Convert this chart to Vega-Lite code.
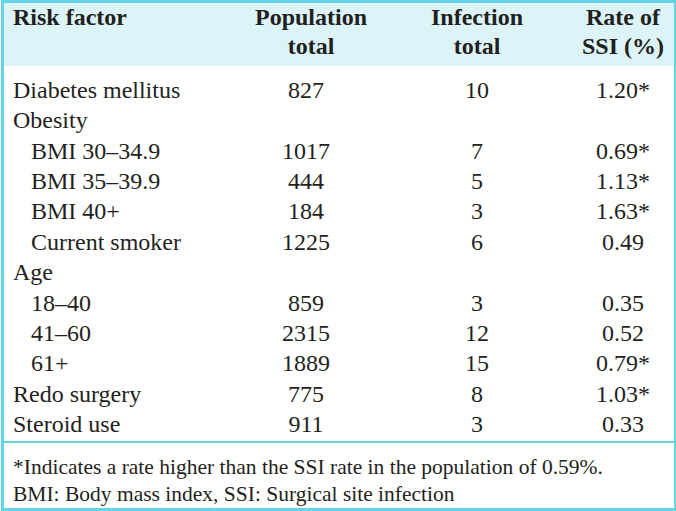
{
  "$schema": "https://vega.github.io/schema/vega-lite/v6.json",
  "width": 676,
  "height": 511,
  "autosize": {"type": "fit", "contains": "padding"},
  "padding": 0,
  "background": "white",
  "config": {
    "view": {"stroke": null},
    "text": {"font": "Liberation Serif", "color": "#231f20", "fontSize": 24, "baseline": "middle"}
  },
  "data": {
    "values": [
      {"factor": "Diabetes mellitus", "level": 0, "population": "827", "infection": "10", "rate": "1.20*"},
      {"factor": "Obesity", "level": 0, "population": "", "infection": "", "rate": ""},
      {"factor": "BMI 30–34.9", "level": 1, "population": "1017", "infection": "7", "rate": "0.69*"},
      {"factor": "BMI 35–39.9", "level": 1, "population": "444", "infection": "5", "rate": "1.13*"},
      {"factor": "BMI 40+", "level": 1, "population": "184", "infection": "3", "rate": "1.63*"},
      {"factor": "Current smoker", "level": 1, "population": "1225", "infection": "6", "rate": "0.49"},
      {"factor": "Age", "level": 0, "population": "", "infection": "", "rate": ""},
      {"factor": "18–40", "level": 1, "population": "859", "infection": "3", "rate": "0.35"},
      {"factor": "41–60", "level": 1, "population": "2315", "infection": "12", "rate": "0.52"},
      {"factor": "61+", "level": 1, "population": "1889", "infection": "15", "rate": "0.79*"},
      {"factor": "Redo surgery", "level": 0, "population": "775", "infection": "8", "rate": "1.03*"},
      {"factor": "Steroid use", "level": 0, "population": "911", "infection": "3", "rate": "0.33"}
    ]
  },
  "layer": [
    {
      "data": {"values": [{}]},
      "mark": {"type": "rect", "fill": "#dcf4f8"},
      "encoding": {"x": {"value": 0}, "x2": {"value": 676}, "y": {"value": 0}, "y2": {"value": 66}}
    },
    {
      "data": {"values": [{}]},
      "mark": {"type": "rule", "stroke": "#66d4e4", "strokeWidth": 2},
      "encoding": {"x": {"value": 0}, "x2": {"value": 676}, "y": {"value": 442}}
    },
    {
      "data": {"values": [{}]},
      "mark": {"type": "rect", "fill": null, "stroke": "#66d4e4", "strokeWidth": 3},
      "encoding": {"x": {"value": 1.5}, "x2": {"value": 674.5}, "y": {"value": 1.5}, "y2": {"value": 509.5}}
    },
    {
      "data": {"values": [{"label": "Risk factor"}]},
      "mark": {"type": "text", "fontWeight": "bold", "align": "left", "x": 12, "y": 18},
      "encoding": {"text": {"field": "label"}}
    },
    {
      "data": {"values": [{"label": ["Population", "total"]}]},
      "mark": {"type": "text", "fontWeight": "bold", "align": "center", "lineHeight": 29, "x": 310, "y": 18},
      "encoding": {"text": {"field": "label"}}
    },
    {
      "data": {"values": [{"label": ["Infection", "total"]}]},
      "mark": {"type": "text", "fontWeight": "bold", "align": "center", "lineHeight": 29, "x": 476, "y": 18},
      "encoding": {"text": {"field": "label"}}
    },
    {
      "data": {"values": [{"label": ["Rate of", "SSI (%)"]}]},
      "mark": {"type": "text", "fontWeight": "bold", "align": "center", "lineHeight": 29, "x": 622, "y": 18},
      "encoding": {"text": {"field": "label"}}
    },
    {
      "transform": [{"filter": "datum.level == 0"}],
      "mark": {"type": "text", "align": "left", "x": 12},
      "encoding": {
        "text": {"field": "factor"},
        "y": {"field": "factor", "type": "ordinal", "sort": null, "axis": null,
              "scale": {"type": "point", "range": [91, 425], "padding": 0,
                        "domain": ["Diabetes mellitus", "Obesity", "BMI 30–34.9", "BMI 35–39.9", "BMI 40+", "Current smoker", "Age", "18–40", "41–60", "61+", "Redo surgery", "Steroid use"]}}
      }
    },
    {
      "transform": [{"filter": "datum.level == 1"}],
      "mark": {"type": "text", "align": "left", "x": 30},
      "encoding": {
        "text": {"field": "factor"},
        "y": {"field": "factor", "type": "ordinal", "sort": null, "axis": null}
      }
    },
    {
      "mark": {"type": "text", "align": "center", "x": 305},
      "encoding": {
        "text": {"field": "population"},
        "y": {"field": "factor", "type": "ordinal", "sort": null, "axis": null}
      }
    },
    {
      "mark": {"type": "text", "align": "center", "x": 476},
      "encoding": {
        "text": {"field": "infection"},
        "y": {"field": "factor", "type": "ordinal", "sort": null, "axis": null}
      }
    },
    {
      "mark": {"type": "text", "align": "center", "x": 622},
      "encoding": {
        "text": {"field": "rate"},
        "y": {"field": "factor", "type": "ordinal", "sort": null, "axis": null}
      }
    },
    {
      "data": {"values": [
        {"note": ["*Indicates a rate higher than the SSI rate in the population of 0.59%.", "BMI: Body mass index, SSI: Surgical site infection"]}
      ]},
      "mark": {"type": "text", "align": "left", "fontSize": 21.5, "lineHeight": 27, "x": 12, "y": 468},
      "encoding": {"text": {"field": "note"}}
    }
  ]
}
